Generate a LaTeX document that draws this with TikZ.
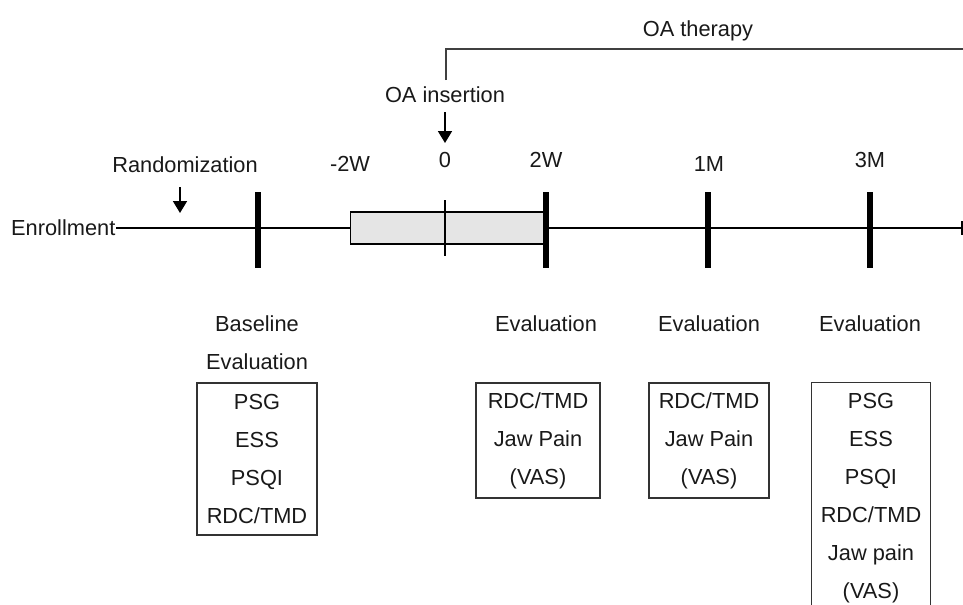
\documentclass[tikz,border=0pt]{standalone}
\usepackage{fontspec}
\setmainfont{Liberation Sans}
\usepackage{tikz}
\usetikzlibrary{calc}
\usetikzlibrary{arrows.meta,positioning}

\tikzset{
  lbl/.style={inner sep=0pt, text=black!90, font=\fontsize{15.5}{27}\selectfont},
  bar/.style={fill=black, inner sep=0pt, minimum width=.16cm, minimum height=1.9cm},
  evtext/.style={lbl, align=center},
  evbox/.style={evtext, draw=black!80, line width=.8pt},
}

\begin{document}
\begin{tikzpicture}[x=.025cm, y=-.025cm, line width=.9pt, >={Triangle[width=10pt,length=8.5pt]}]
  \useasboundingbox (0,0) rectangle (963,605);

  % time line
  \node[lbl, anchor=east] (enr) at (116,228) {Enrollment};
  \coordinate (tend) at (962,228);
  \draw (enr.east) -- (tend);
  \draw ($(tend)+(0,-7)$) -- ($(tend)+(0,7)$);

  \node[draw, fill=black!10, minimum width=4.9cm, minimum height=.8cm, anchor=west, inner sep=0pt] (run) at (350,228) {};
  \coordinate (zero) at (445,228);
  \draw ($(zero)+(0,-28)$) -- ($(zero)+(0,28)$);

  \node[bar] (base) at (258,230) {};
  \node[bar] (b2w) at (546,230) {};
  \node[bar] (b1m) at (708,230) {};
  \node[bar] (b3m) at (870,230) {};

  % labels above
  \node[lbl] (rand) at (185,165) {Randomization};
  \coordinate (randtop) at (180,187);
  \coordinate (randtip) at (180,213);
  \draw[->] (randtop) -- (randtip);

  \node[lbl] (tm2w) at (350,164) {-2W};
  \node[lbl] (t0) at (445,160) {0};
  \node[lbl] (t2w) at (546,160) {2W};
  \node[lbl] (t1m) at (709,164) {1M};
  \node[lbl] (t3m) at (870,160) {3M};

  \node[lbl] (ins) at (445,95) {OA insertion};
  \coordinate (instop) at (445,112);
  \coordinate (instip) at (445,143);
  \draw[->] (instop) -- (instip);

  \coordinate (thstart) at (446,80);
  \coordinate (thend) at (963,49);
  \draw[black!75] (thstart) |- (thend);
  \node[lbl, anchor=base] (ther) at (698,36) {OA therapy};

  % evaluations
  \node[lbl] (basel) at (257,324) {Baseline};
  \node[lbl] (bev) at (257,362) {Evaluation};
  \node[evbox, minimum width=3cm, minimum height=3.8cm] (box0) at (257,459) {PSG\\ESS\\PSQI\\RDC/TMD};

  \node[lbl] (ev2w) at (546,324) {Evaluation};
  \node[evbox, minimum width=3.1cm, minimum height=2.875cm] (box2w) at (538,440.5) {RDC/TMD\\Jaw Pain\\(VAS)};

  \node[lbl] (ev1m) at (709,324) {Evaluation};
  \node[evbox, minimum width=3cm, minimum height=2.875cm] (box1m) at (709,440.5) {RDC/TMD\\Jaw Pain\\(VAS)};

  \node[lbl] (ev3m) at (870,324) {Evaluation};
  \node[evtext, minimum width=2.95cm, minimum height=5.75cm] (box3m) at (871,498) {PSG\\ESS\\PSQI\\RDC/TMD\\Jaw pain\\(VAS)};
  \draw[black!80] (box3m.south west) -- (box3m.north west) -- (box3m.north east) -- (box3m.south east);
\end{tikzpicture}
\end{document}
